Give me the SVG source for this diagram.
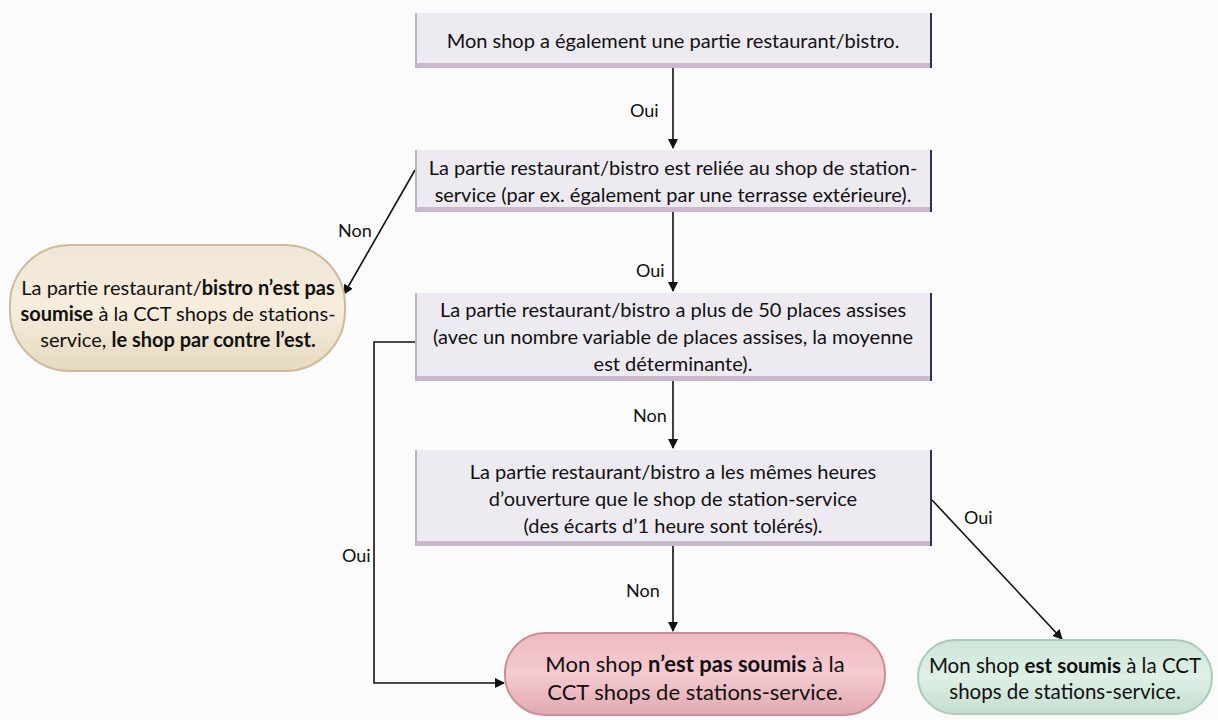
<svg xmlns="http://www.w3.org/2000/svg" width="1218" height="720" viewBox="0 0 1218 720">
<defs>
<style>
text{font-family:Lato,"Open Sans","Liberation Sans",sans-serif;font-size:20px;fill:#111;}
.c{text-anchor:middle;}
.b{font-weight:bold;}
.lbl{font-size:18px;}
.box{fill:#eeeaf1;}
.band{fill:#c8bacb;}
.edge{stroke:#2a3550;stroke-width:2;}
.ledge{stroke:#b8b4c4;stroke-width:2;}
.conn{stroke:#111;stroke-width:1.6;fill:none;}
</style>
<marker id="arr" viewBox="0 0 10 10" refX="9" refY="5" markerWidth="10" markerHeight="10" orient="auto" markerUnits="userSpaceOnUse">
<path d="M0,0 L10,5 L0,10 Z" fill="#111"/>
</marker>
<linearGradient id="tan" x1="0" y1="0" x2="0" y2="1">
<stop offset="0" stop-color="#efe6d6"/><stop offset="0.5" stop-color="#f6eddc"/><stop offset="1" stop-color="#e6d9c0"/>
</linearGradient>
<linearGradient id="pink" x1="0" y1="0" x2="0" y2="1">
<stop offset="0" stop-color="#eeb9c1"/><stop offset="0.5" stop-color="#f5cbd1"/><stop offset="1" stop-color="#e2a8b1"/>
</linearGradient>
<linearGradient id="green" x1="0" y1="0" x2="0" y2="1">
<stop offset="0" stop-color="#cde6d8"/><stop offset="0.5" stop-color="#dff0e6"/><stop offset="1" stop-color="#c4decf"/>
</linearGradient>
</defs>
<rect width="1218" height="720" fill="#fbfbfb"/>

<g id="connectors">
<line class="conn" x1="673" y1="68" x2="673" y2="148" marker-end="url(#arr)"/>
<line class="conn" x1="673" y1="212" x2="673" y2="291" marker-end="url(#arr)"/>
<line class="conn" x1="673" y1="381" x2="673" y2="448" marker-end="url(#arr)"/>
<line class="conn" x1="673" y1="546" x2="673" y2="631" marker-end="url(#arr)"/>
<line class="conn" x1="415" y1="170" x2="344" y2="294" marker-end="url(#arr)"/>
<polyline class="conn" points="415,342 374,342 374,683 504,683" marker-end="url(#arr)"/>
<line class="conn" x1="932" y1="500" x2="1062" y2="639" marker-end="url(#arr)"/>
<text class="lbl" x="630" y="117">Oui</text>
<text class="lbl" x="636" y="277">Oui</text>
<text class="lbl" x="633" y="422">Non</text>
<text class="lbl" x="626" y="597">Non</text>
<text class="lbl" x="338" y="237">Non</text>
<text class="lbl" x="342" y="562">Oui</text>
<text class="lbl" x="964" y="524">Oui</text>
</g>

<g id="n1">
<rect class="box" x="415" y="13" width="517" height="55"/>
<rect class="band" x="415" y="63" width="517" height="5"/>
<line class="edge" x1="931" y1="13" x2="931" y2="68"/>
<line class="ledge" x1="416" y1="13" x2="416" y2="68"/>
<text class="c" x="673" y="48">Mon shop a également une partie restaurant/bistro.</text>
</g>

<g id="n2">
<rect class="box" x="415" y="150" width="517" height="62"/>
<rect class="band" x="415" y="207" width="517" height="5"/>
<line class="edge" x1="931" y1="150" x2="931" y2="212"/>
<line class="ledge" x1="416" y1="150" x2="416" y2="212"/>
<text class="c" x="673" y="175">La partie restaurant/bistro est reliée au shop de station-</text>
<text class="c" x="673" y="202">service (par ex. également par une terrasse extérieure).</text>
</g>

<g id="n3">
<rect class="box" x="415" y="293" width="517" height="88"/>
<rect class="band" x="415" y="376" width="517" height="5"/>
<line class="edge" x1="931" y1="293" x2="931" y2="381"/>
<line class="ledge" x1="416" y1="293" x2="416" y2="381"/>
<text class="c" x="673" y="317">La partie restaurant/bistro a plus de 50 places assises</text>
<text class="c" x="673" y="344">(avec un nombre variable de places assises, la moyenne</text>
<text class="c" x="673" y="371">est déterminante).</text>
</g>

<g id="n4">
<rect class="box" x="415" y="450" width="517" height="96"/>
<rect class="band" x="415" y="541" width="517" height="5"/>
<line class="edge" x1="931" y1="450" x2="931" y2="546"/>
<line class="ledge" x1="416" y1="450" x2="416" y2="546"/>
<text class="c" x="673" y="479">La partie restaurant/bistro a les mêmes heures</text>
<text class="c" x="673" y="506">d’ouverture que le shop de station-service</text>
<text class="c" x="673" y="533">(des écarts d’1 heure sont tolérés).</text>
</g>

<g id="n5">
<rect x="10" y="245" width="335" height="126" rx="60" ry="60" fill="url(#tan)" stroke="#cdbb9a" stroke-width="2"/>
<text class="c" x="178" y="295">La partie restaurant/<tspan class="b">bistro n’est pas</tspan></text>
<text class="c" x="178" y="321"><tspan class="b">soumise</tspan> à la CCT shops de stations-</text>
<text class="c" x="178" y="347">service, <tspan class="b">le shop par contre l’est.</tspan></text>
</g>

<g id="n6">
<rect x="505" y="633" width="380" height="82" rx="40" ry="40" fill="url(#pink)" stroke="#c98f99" stroke-width="2"/>
<text class="c" x="695" y="672" style="font-size:22px">Mon shop <tspan class="b">n’est pas soumis</tspan> à la</text>
<text class="c" x="695" y="700" style="font-size:22px">CCT shops de stations-service.</text>
</g>

<g id="n7">
<rect x="918" y="640" width="294" height="74" rx="37" ry="37" fill="url(#green)" stroke="#a9cbb8" stroke-width="2"/>
<text class="c" x="1065" y="673" style="font-size:20.5px">Mon shop <tspan class="b">est soumis</tspan> à la CCT</text>
<text class="c" x="1065" y="699" style="font-size:20.5px">shops de stations-service.</text>
</g>
</svg>
